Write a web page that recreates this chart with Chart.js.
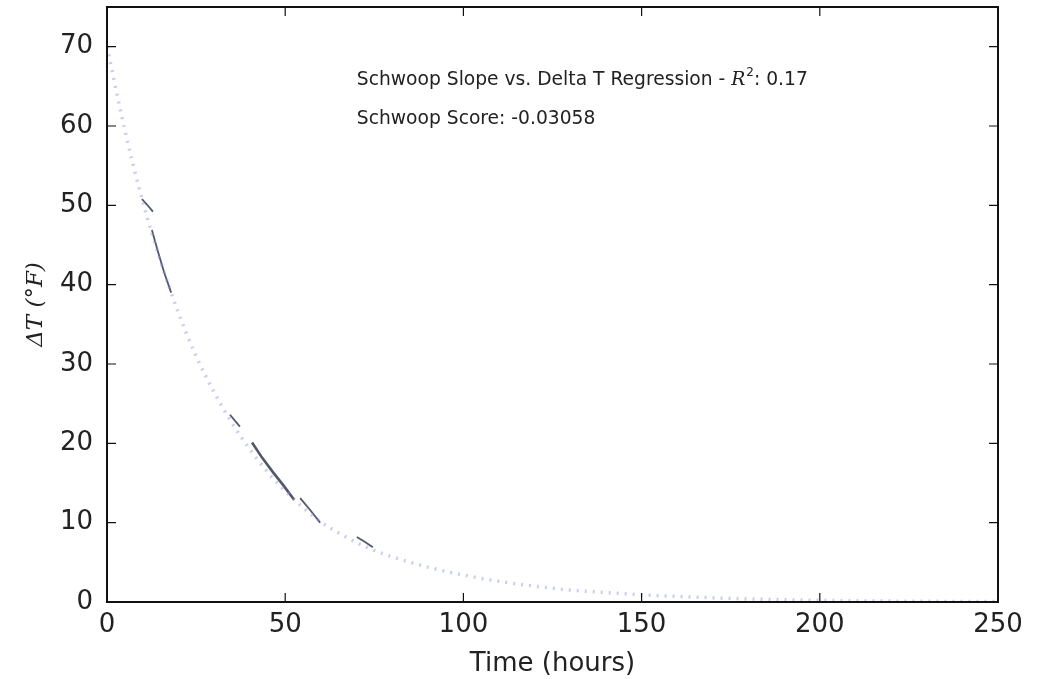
<!DOCTYPE html>
<html lang="en">
<head>
  <meta charset="UTF-8" />
  <title>Schwoop Delta T</title>
  <script src="https://cdn.jsdelivr.net/npm/chart.js"></script>
  <style>
    body {
      margin: 0;
      background: #ffffff;
    }
    #wrap {
      width: 1040px;
      height: 679px;
    }
  </style>
</head>
<body>
  <div id="wrap">
    <canvas id="deltaChart" width="1040" height="679"></canvas>
  </div>

  <script>
    // fitted decay curve
    const fitHours = [0, 5, 10, 15, 20, 25, 30, 35, 40, 45, 50, 55, 60, 65, 70, 75, 80, 90, 100, 110, 120, 130, 140, 150, 160, 175, 200, 225, 250];
    const fitDeltaT = [70, 59.5, 50.5, 43, 36.5, 31, 26.5, 22.6, 19.3, 16.4, 14, 11.9, 10.1, 8.7, 7.5, 6.5, 5.7, 4.4, 3.4, 2.6, 2.0, 1.5, 1.2, 0.9, 0.7, 0.45, 0.2, 0.1, 0.05];

    // measured segments (dark strokes)
    const seg1Hours = [9.8, 11.2, 12.9];
    const seg1DeltaT = [50.8, 50.1, 49.2];
    const seg2Hours = [12.6, 14.2, 16.0, 18.0];
    const seg2DeltaT = [46.9, 44.3, 41.6, 39.0];
    const seg3Hours = [34.5, 37.3];
    const seg3DeltaT = [23.6, 22.1];
    const seg4Hours = [40.7, 43.5, 46.5, 49.5, 52.5];
    const seg4DeltaT = [20.1, 18.2, 16.4, 14.7, 12.9];
    const seg5Hours = [54.2, 57.0, 59.8];
    const seg5DeltaT = [13.1, 11.6, 10.0];
    const seg6Hours = [70.1, 72.3, 74.6];
    const seg6DeltaT = [8.2, 7.6, 6.9];

    const xTicks = [0, 50, 100, 150, 200, 250];
    const yTicks = [0, 10, 20, 30, 40, 50, 60, 70];

    function toPoints(xs, ys) {
      return xs.map((x, i) => ({ x: x, y: ys[i] }));
    }

    function segment(xs, ys, w) {
      return {
        data: toPoints(xs, ys),
        showLine: true,
        borderColor: 'rgba(40, 45, 65, 0.8)',
        borderWidth: w || 1.8,
        pointRadius: 0,
        tension: 0
      };
    }

    // frame, inward ticks on all four sides, and the annotation text
    const framePlugin = {
      id: 'frame',
      afterDatasetsDraw(chart) {
        const ctx = chart.ctx;
        const a = chart.chartArea;
        const xs = chart.scales.x;
        const ys = chart.scales.y;
        ctx.save();
        ctx.strokeStyle = '#111';
        ctx.lineWidth = 1.2;
        ctx.beginPath();
        xTicks.forEach(v => {
          const px = xs.getPixelForValue(v);
          ctx.moveTo(px, a.bottom);
          ctx.lineTo(px, a.bottom - 9);
          ctx.moveTo(px, a.top);
          ctx.lineTo(px, a.top + 9);
        });
        yTicks.forEach(v => {
          const py = ys.getPixelForValue(v);
          ctx.moveTo(a.left, py);
          ctx.lineTo(a.left + 9, py);
          ctx.moveTo(a.right, py);
          ctx.lineTo(a.right - 9, py);
        });
        ctx.stroke();
        ctx.lineWidth = 2;
        ctx.strokeRect(a.left, a.top, a.right - a.left, a.bottom - a.top);

        // text annotations
        ctx.fillStyle = '#222';
        ctx.textBaseline = 'middle';
        ctx.textAlign = 'left';
        let tx = xs.getPixelForValue(70.1);
        const ty1 = ys.getPixelForValue(65.8);
        const ty2 = ys.getPixelForValue(60.9);
        ctx.font = '18.7px "DejaVu Sans"';
        const part1 = 'Schwoop Slope vs. Delta T Regression - ';
        ctx.fillText(part1, tx, ty1);
        tx += ctx.measureText(part1).width;
        ctx.font = 'italic 18.7px "DejaVu Serif"';
        ctx.fillText('R', tx, ty1);
        tx += ctx.measureText('R').width;
        ctx.font = '12px "DejaVu Sans"';
        ctx.fillText('2', tx + 1, ty1 - 7);
        tx += ctx.measureText('2').width + 1;
        ctx.font = '18.7px "DejaVu Sans"';
        ctx.fillText(': 0.17', tx, ty1);
        ctx.fillText('Schwoop Score: -0.03058', xs.getPixelForValue(70.1), ty2);
        ctx.restore();
      }
    };

    const ctx = document.getElementById('deltaChart').getContext('2d');
    const deltaChart = new Chart(ctx, {
      type: 'scatter',
      data: {
        datasets: [
          {
            data: toPoints(fitHours, fitDeltaT),
            showLine: true,
            borderColor: 'rgba(150, 155, 225, 0.5)',
            borderWidth: 3.5,
            borderDash: [2, 6],
            borderCapStyle: 'butt',
            pointRadius: 0,
            cubicInterpolationMode: 'monotone'
          },
          segment(seg1Hours, seg1DeltaT),
          segment(seg2Hours, seg2DeltaT),
          segment(seg3Hours, seg3DeltaT),
          segment(seg4Hours, seg4DeltaT, 2.6),
          segment(seg5Hours, seg5DeltaT),
          segment(seg6Hours, seg6DeltaT)
        ]
      },
      options: {
        responsive: false,
        animation: false,
        layout: {
          padding: { top: 7, right: 42, left: 0, bottom: 0 }
        },
        plugins: {
          legend: { display: false },
          tooltip: { enabled: false }
        },
        scales: {
          x: {
            type: 'linear',
            min: 0,
            max: 250,
            afterBuildTicks: s => { s.ticks = xTicks.map(v => ({ value: v })); },
            afterFit: s => { s.height = 77; s.paddingLeft = 0; s.paddingRight = 0; },
            grid: { display: false, drawTicks: false },
            border: { display: false },
            ticks: {
              color: '#222',
              padding: 8,
              font: { family: 'DejaVu Sans', size: 26 }
            },
            title: {
              display: true,
              text: 'Time (hours)',
              color: '#222',
              padding: { top: 6, bottom: -1 },
              font: { family: 'DejaVu Sans', size: 26 }
            }
          },
          y: {
            type: 'linear',
            min: 0,
            max: 75,
            afterBuildTicks: s => { s.ticks = yTicks.map(v => ({ value: v })); },
            afterFit: s => { s.width = 107; s.paddingTop = 0; s.paddingBottom = 0; },
            grid: { display: false, drawTicks: false },
            border: { display: false },
            ticks: {
              color: '#222',
              padding: 14,
              font: { family: 'DejaVu Sans', size: 26 }
            },
            title: {
              display: true,
              text: 'ΔT (°F)',
              color: '#222',
              padding: { top: 22, bottom: 4 },
              font: { family: 'DejaVu Serif', size: 23, style: 'italic' }
            }
          }
        }
      },
      plugins: [framePlugin]
    });
  </script>
</body>
</html>
